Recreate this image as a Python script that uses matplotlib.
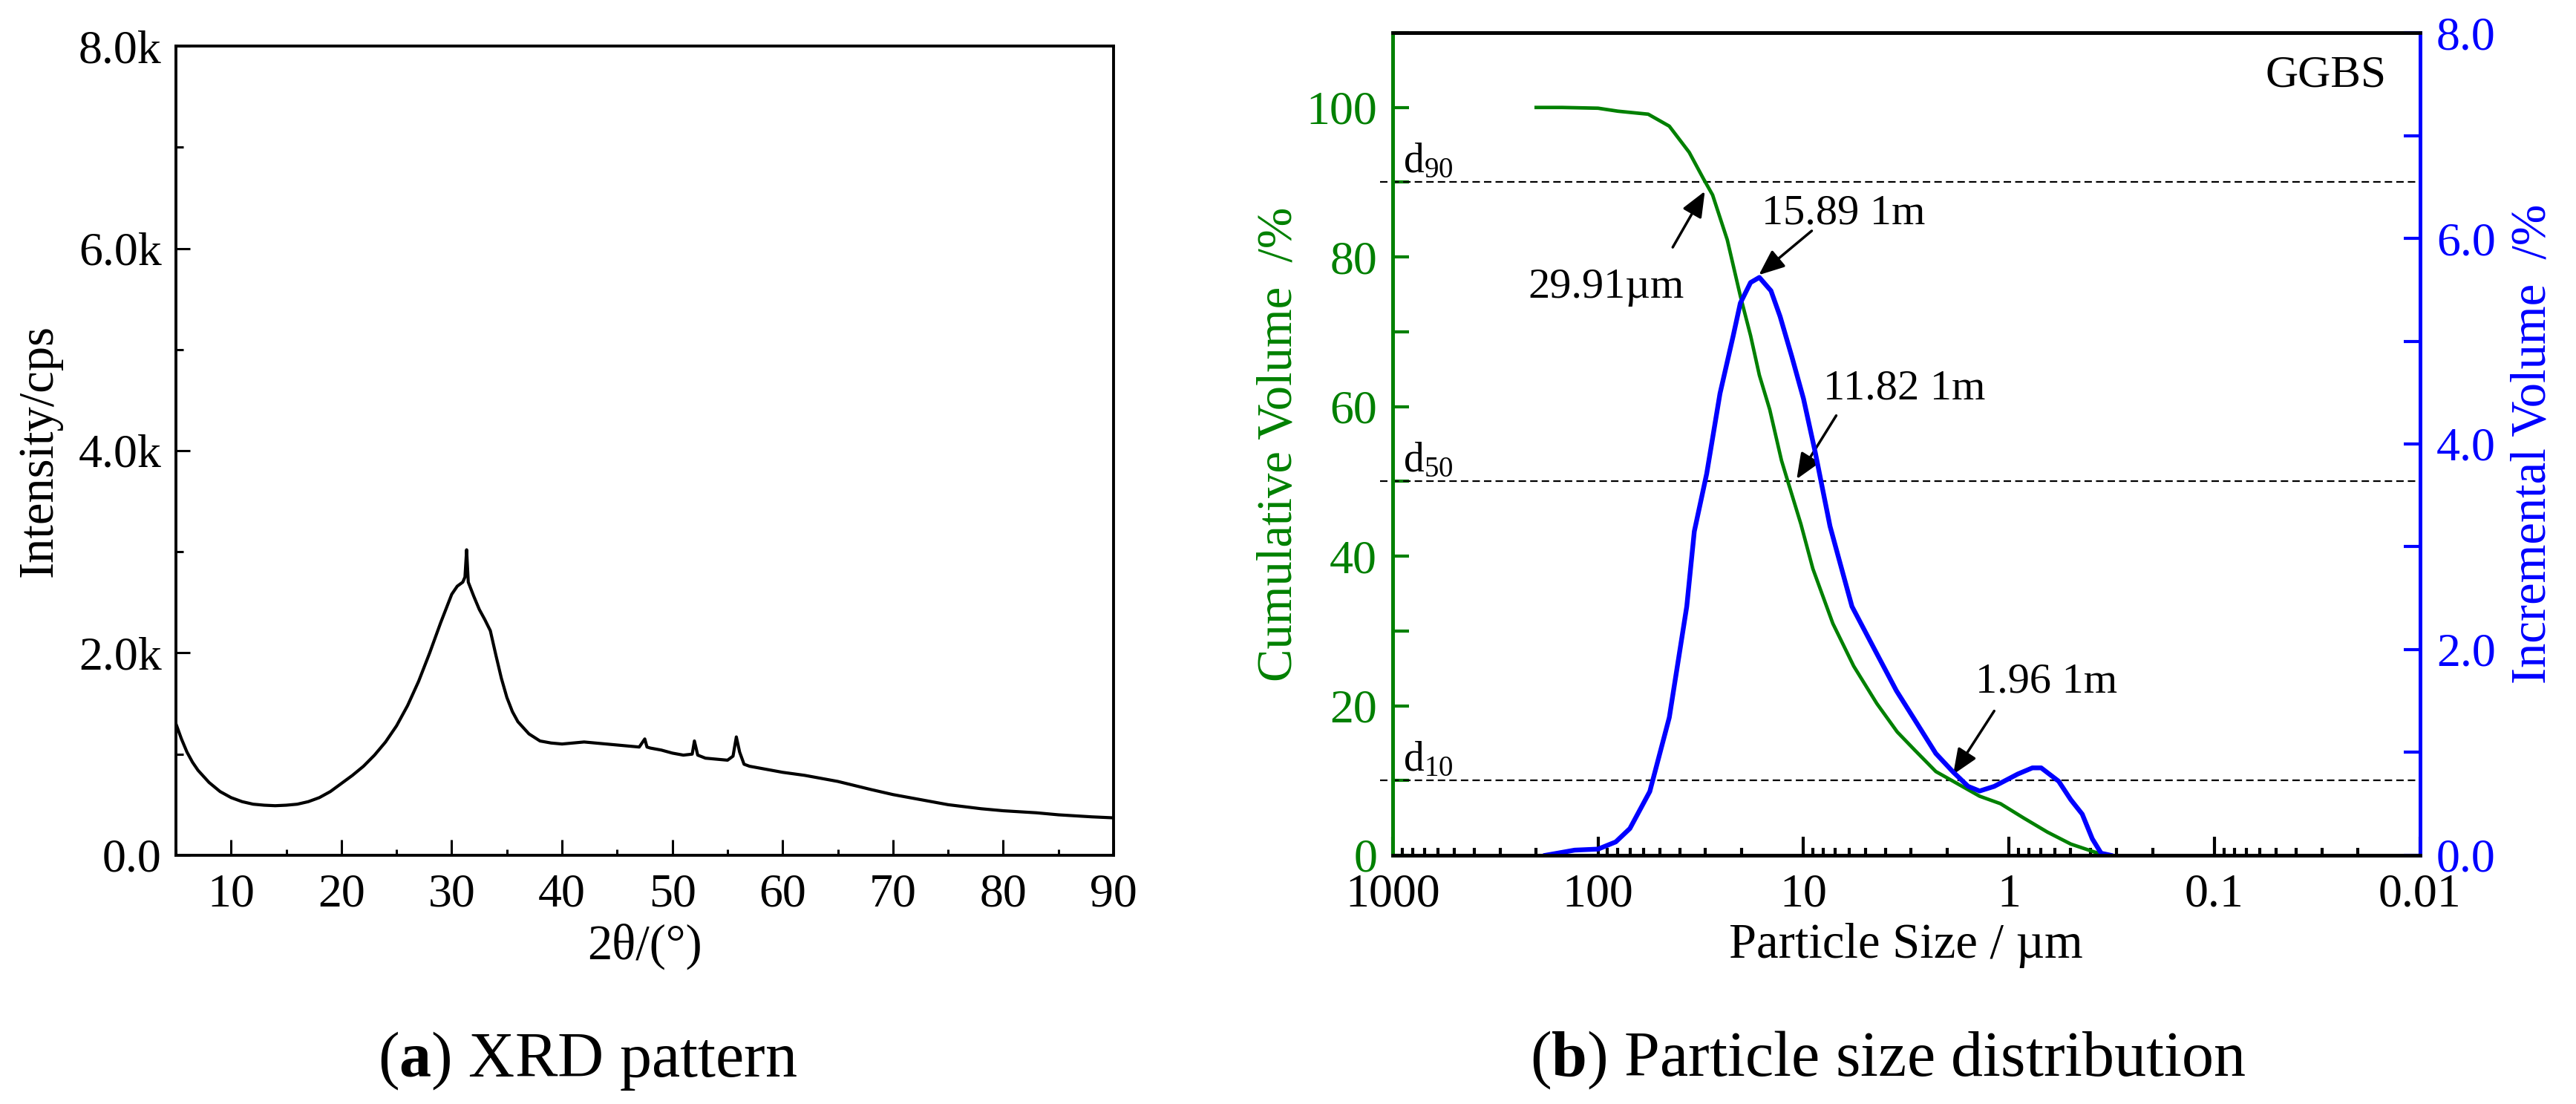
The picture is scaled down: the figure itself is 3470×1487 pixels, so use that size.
import numpy as np
import matplotlib
matplotlib.use('Agg')
import matplotlib.pyplot as plt
from matplotlib.ticker import MultipleLocator, FixedLocator, LogLocator, NullFormatter

plt.rcParams['font.family'] = ['Liberation Serif', 'DejaVu Serif']
plt.rcParams['mathtext.fontset'] = 'custom'
plt.rcParams['mathtext.rm'] = 'Liberation Serif'
plt.rcParams['mathtext.it'] = 'Liberation Serif:italic'
plt.rcParams['mathtext.bf'] = 'Liberation Serif:bold'

# %% (a) XRD pattern
two_theta = [5, 5.5, 6, 6.5, 7, 8, 9, 10, 11, 12, 13, 14, 15, 16, 17, 18, 19, 20,
             21, 22, 23, 24, 25, 26, 27, 28, 29, 30, 30.5, 31, 31.2, 31.35, 31.5,
             32, 32.5, 33, 33.5, 34, 34.5, 35, 35.5, 36, 37, 38, 39, 40, 41, 42,
             43, 44, 45, 46, 47, 47.5, 47.7, 48, 49, 50, 51, 51.8, 52, 52.3, 53,
             54, 55, 55.5, 55.8, 56.1, 56.5, 57, 58, 60, 62, 65, 68, 70, 72, 75,
             78, 80, 83, 85, 88, 90]
intensity = [1300, 1150, 1020, 920, 840, 720, 630, 570, 530, 505, 495, 490, 495,
             505, 530, 570, 630, 710, 790, 880, 990, 1120, 1280, 1480, 1720, 2000,
             2300, 2580, 2660, 2700, 2750, 3020, 2700, 2560, 2430, 2330, 2220, 1980,
             1750, 1560, 1420, 1320, 1200, 1130, 1110, 1100, 1110, 1120, 1110, 1100,
             1090, 1080, 1070, 1150, 1070, 1060, 1040, 1010, 990, 1000, 1130, 990,
             960, 950, 940, 980, 1170, 1020, 900, 880, 860, 820, 790, 730, 650, 600,
             560, 500, 460, 440, 420, 400, 380, 370]
xrd_xticks = [10, 20, 30, 40, 50, 60, 70, 80, 90]
xrd_yticks = [0, 2000, 4000, 6000, 8000]
xrd_ylabels = ['0.0', '2.0k', '4.0k', '6.0k', '8.0k']

# %% (b) particle size distribution
cum_size = [200, 150, 100, 80, 57, 45, 36, 30.6, 27.7, 23.5, 20.3, 18.1, 16.4, 14.6,
            12.8, 11.8, 10.3, 9.0, 7.2, 5.7, 4.4, 3.5, 2.86, 2.27, 1.87, 1.39, 1.10,
            0.85, 0.65, 0.50, 0.39, 0.34]
cum_vol = [100, 100, 99.9, 99.5, 99.1, 97.5, 94, 90.4, 88.3, 82.3, 74.8, 69.5, 64.2,
           59.6, 52.8, 49.6, 44.3, 38.3, 31.0, 25.3, 20.3, 16.5, 14.0, 11.2, 9.9, 7.9,
           6.9, 5.0, 3.1, 1.5, 0.5, 0.0]
inc_size = [180, 130, 100, 82, 70, 56, 45, 37, 34, 29.6, 25.5, 22, 20.3, 18.1, 16.4,
            14.4, 13.0, 11.4, 10, 8.77, 7.43, 6.74, 5.81, 4.45, 3.53, 2.86, 2.27, 1.87,
            1.58, 1.39, 1.18, 0.906, 0.769, 0.697, 0.573, 0.50, 0.44, 0.393, 0.356, 0.32]
inc_vol = [0, 0.05, 0.06, 0.13, 0.26, 0.62, 1.34, 2.42, 3.15, 3.71, 4.49, 5.05, 5.37,
           5.57, 5.62, 5.49, 5.24, 4.85, 4.44, 3.92, 3.2, 2.89, 2.42, 1.98, 1.60, 1.31,
           0.99, 0.81, 0.67, 0.625, 0.67, 0.79, 0.85, 0.85, 0.72, 0.54, 0.40, 0.16,
           0.02, 0]
psd_xticks = [1000, 100, 10, 1, 0.1, 0.01]
psd_xlabels = ['1000', '100', '10', '1', '0.1', '0.01']
cum_ticks = [0, 20, 40, 60, 80, 100]
inc_ticks = [0, 2, 4, 6, 8]
inc_labels = ['0.0', '2.0', '4.0', '6.0', '8.0']
d_levels = [90, 50, 10]
d_names = ['d$_{90}$', 'd$_{50}$', 'd$_{10}$']
# annotations: text, text position, arrow tail, arrow head (size um, cumulative %)
notes = [('29.91µm', (91.2, 75.9), (43.3, 81.3), (30.2, 88.8)),
         ('15.89 1m', (6.38, 85.8), (9.12, 83.5), (16.5, 77.6)),
         ('11.82 1m', (3.23, 62.4), (6.93, 58.8), (10.8, 50.3)),
         ('1.96 1m', (0.66, 23.2), (1.18, 19.3), (1.87, 10.8))]

fig = plt.figure(figsize=(34.7, 14.87), dpi=100)

# %% left panel
ax1 = fig.add_axes([0.0683, 0.2253, 0.364, 0.733])
ax1.plot(two_theta, intensity, color='black', lw=3.0)
ax1.set_xlim(5, 90)
ax1.set_ylim(0, 8000)
ax1.set_xticks(xrd_xticks)
ax1.xaxis.set_minor_locator(MultipleLocator(5))
ax1.set_yticks(xrd_yticks)
ax1.set_yticklabels(xrd_ylabels)
ax1.yaxis.set_minor_locator(MultipleLocator(1000))
ax1.tick_params(which='both', direction='in', width=2.2, labelsize=46)
ax1.tick_params(axis='x', which='major', length=15, pad=18)
ax1.tick_params(axis='x', which='minor', length=6)
ax1.tick_params(axis='y', which='major', length=14, pad=14)
ax1.tick_params(axis='y', which='minor', length=7)
for s in ax1.spines.values():
    s.set_linewidth(2.8)
ax1.set_xlabel('2θ/(°)', fontsize=48, labelpad=6)
ax1.set_ylabel('Intensity/cps', fontsize=48, labelpad=16)

# %% right panel
ax2 = fig.add_axes([0.5406, 0.2253, 0.3988, 0.7451])
ax3 = ax2.twinx()
ax2.plot(cum_size, cum_vol, color='green', lw=3.4, zorder=3)
ax3.plot(inc_size, inc_vol, color='blue', lw=4.6)
ax2.set_xscale('log')
ax2.set_xlim(1000, 0.01)
ax2.set_ylim(0, 110)
ax3.set_ylim(0, 8)

for v, name in zip(d_levels, d_names):
    ax2.axhline(v, xmin=-0.012, xmax=1.0, color='black', lw=1.6,
                ls=(0, (4.5, 2.5)), clip_on=False)
    ax2.text(890, v + 1.3, name, fontsize=40, va='baseline', ha='left')

for txt, tpos, tail, head in notes:
    ax2.annotate('', xy=head, xytext=tail,
                 arrowprops=dict(arrowstyle='-|>,head_length=0.6,head_width=0.25',
                                 color='black', lw=2.5, mutation_scale=35,
                                 shrinkA=0, shrinkB=0))
    ax2.text(tpos[0], tpos[1], txt, fontsize=42, ha='center', va='center')

ax2.text(0.967, 0.973, 'GGBS', transform=ax2.transAxes, fontsize=44,
         ha='right', va='top')

ax2.xaxis.set_major_locator(FixedLocator(psd_xticks))
ax2.set_xticklabels(psd_xlabels)
ax2.xaxis.set_minor_locator(LogLocator(base=10, subs=np.arange(2, 10)))
ax2.xaxis.set_minor_formatter(NullFormatter())
ax2.set_yticks(cum_ticks)
ax2.yaxis.set_minor_locator(MultipleLocator(10))
ax3.set_yticks(inc_ticks)
ax3.set_yticklabels(inc_labels)
ax3.yaxis.set_minor_locator(MultipleLocator(1))

ax2.tick_params(axis='x', which='both', direction='in', width=3, labelsize=46)
ax2.tick_params(axis='x', which='major', length=18, pad=18)
ax2.tick_params(axis='x', which='minor', length=7)
ax2.tick_params(axis='y', which='both', direction='in', length=16, width=3,
                colors='green', labelsize=46, pad=15)
ax3.tick_params(axis='y', which='both', direction='in', length=16, width=3,
                colors='blue', labelsize=46, pad=16)

for a in (ax2, ax3):
    for s in a.spines.values():
        s.set_linewidth(3.4)
ax3.spines['left'].set_color('green')
ax3.spines['right'].set_color('blue')
ax2.spines['left'].set_color('green')
ax2.spines['right'].set_color('blue')

ax2.set_xlabel('Particle Size / µm', fontsize=48, labelpad=6)
ax2.set_ylabel('Cumulative Volume  /%', fontsize=48, color='green', labelpad=4)
ax3.set_ylabel('Incremental Volume  /%', fontsize=48, color='blue', labelpad=14)

# %% captions
fig.text(0.228, 0.025, r'($\mathbf{a}$) XRD pattern', fontsize=62, ha='center',
         va='baseline')
fig.text(0.733, 0.025, r'($\mathbf{b}$) Particle size distribution', fontsize=62,
         ha='center', va='baseline')

fig.savefig('out.png', dpi=100)
